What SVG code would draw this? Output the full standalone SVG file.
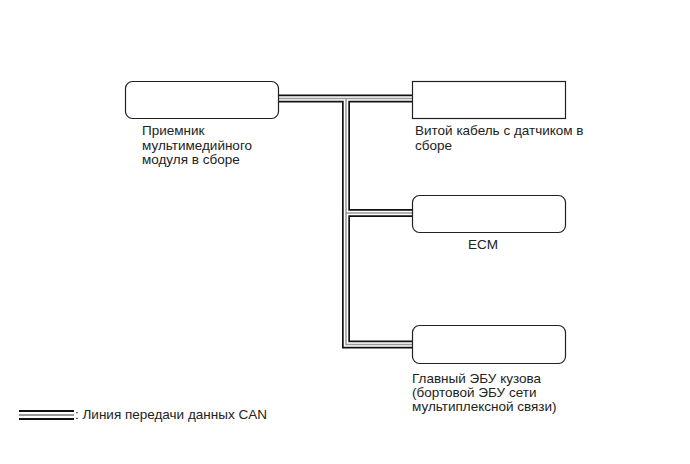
<svg xmlns="http://www.w3.org/2000/svg" width="690" height="464" viewBox="0 0 690 464">
<style>
.box{fill:#fff;stroke:#222;stroke-width:1.2}
.t{font-family:"Liberation Sans",Arial,sans-serif;font-size:13.5px;fill:#222}
.c1{fill:none;stroke:#111;stroke-width:8;stroke-linejoin:miter}
.c2{fill:none;stroke:#fff;stroke-width:4.6;stroke-linejoin:miter}
.c3{fill:none;stroke:#999;stroke-width:1.5;stroke-linejoin:miter}
</style>
<rect width="690" height="464" fill="#fff"/>
<g id="connectors">
<path class="c1" d="M278,98.5H412M346,98.5V344.5H412M346,213H412"/>
<path class="c2" d="M278,98.5H412M346,98.5V344.5H412M346,213H412"/>
<path class="c3" d="M278,98.5H412M346,98.5V344.5H412M346,213H412"/>
</g>
<g id="node-receiver">
<rect class="box" x="125.5" y="81.5" width="153" height="37" rx="7"/>
<text class="t" x="142" y="135">Приемник</text>
<text class="t" x="142" y="149.5">мультимедийного</text>
<text class="t" x="142" y="164">модуля в сборе</text>
</g>
<g id="node-spiral">
<rect class="box" x="412.5" y="81.5" width="153" height="37"/>
<text class="t" x="415" y="135">Витой кабель с датчиком в</text>
<text class="t" x="415" y="150">сборе</text>
</g>
<g id="node-ecm">
<rect class="box" x="412.5" y="195.5" width="153" height="37" rx="7"/>
<text class="t" x="483" y="249" text-anchor="middle">ECM</text>
</g>
<g id="node-body">
<rect class="box" x="412.5" y="325.5" width="153" height="38" rx="7"/>
<text class="t" x="412" y="383">Главный ЭБУ кузова</text>
<text class="t" x="412" y="397">(бортовой ЭБУ сети</text>
<text class="t" x="412" y="411">мультиплексной связи)</text>
</g>
<g id="legend">
<path d="M19,411H74M19,419H74" stroke="#111" stroke-width="2.2" fill="none"/>
<path d="M19,415H74" stroke="#999" stroke-width="2" fill="none"/>
<text class="t" x="75" y="419">: Линия передачи данных CAN</text>
</g>
</svg>
